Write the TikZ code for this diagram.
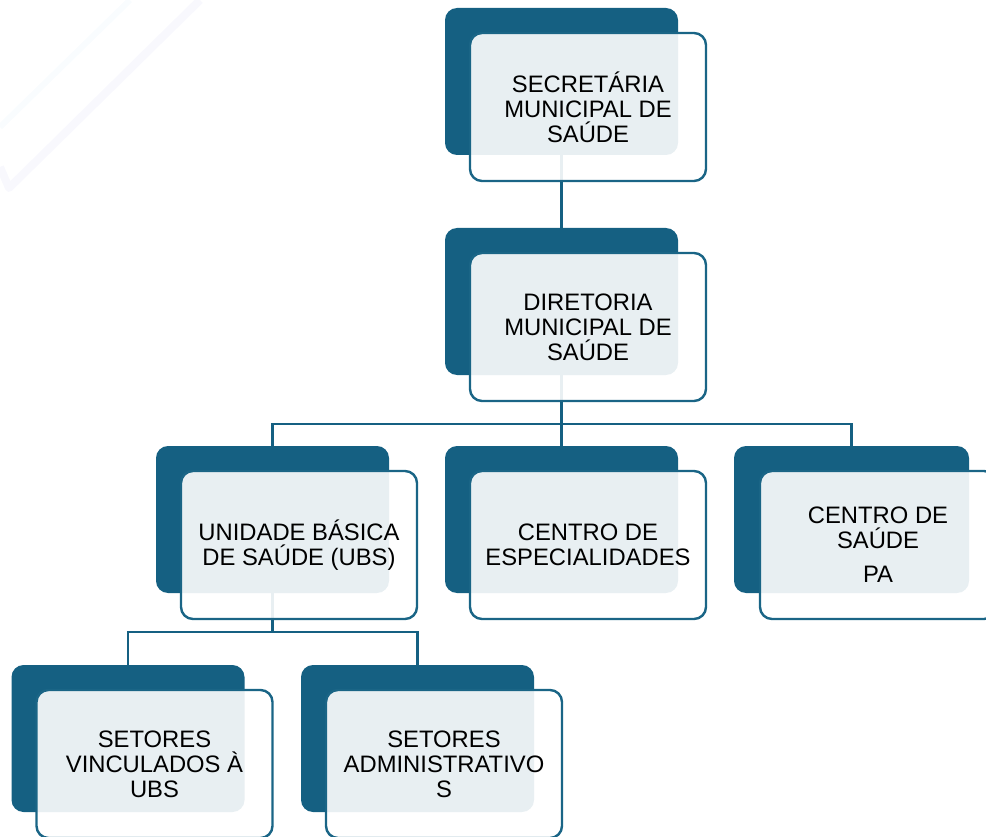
\documentclass[tikz,border=0pt]{standalone}
\usepackage{fontspec}
\setmainfont{Liberation Sans}
\definecolor{teal1}{HTML}{156082}
\definecolor{edge1}{HTML}{1A6586}
\definecolor{wmA}{HTML}{F9FCFE}
\definecolor{wmB}{HTML}{F8F8FD}
\begin{document}
\begin{tikzpicture}[x=1pt,y=-1pt,
  darkbox/.style={draw=none, fill=teal1, rounded corners=12pt, minimum width=233pt, minimum height=147pt, inner sep=0pt, outer sep=0pt},
  frontbox/.style={draw=edge1, line width=2.4pt, fill=white, fill opacity=0.9, text opacity=1, draw opacity=1, rounded corners=12pt, minimum width=236pt, minimum height=148pt, inner sep=2pt, align=center, text=black, font=\fontsize{23.8}{25}\selectfont},
  conn/.style={draw=teal1, line width=2.5pt}]
\useasboundingbox (0,0) rectangle (986,837);
\clip (0,0) rectangle (986,837);
% faint watermark
\draw[wmA, line width=6pt] (0,127) -- (130,0);
\draw[wmB, line width=8pt, line join=round] (0,167) -- (9,188) -- (200,0);
% dark boxes
\node[darkbox] (d1) at (561.5,81.5) {};
\node[darkbox] (d2) at (561.5,301.5) {};
\node[darkbox] (d3) at (272.5,519.5) {};
\node[darkbox] (d4) at (561.5,519.5) {};
\node[darkbox, minimum width=235pt] (d5) at (851.5,519.5) {};
\node[darkbox] (d6) at (128,738.5) {};
\node[darkbox] (d7) at (417.5,738.5) {};
% connectors
\coordinate (bar1) at (561.5,424);
\coordinate (bar2) at (272.5,632);
\draw[conn] (d1.south) -- (d2.north);
\draw[conn] (d2.south) -- (bar1);
\draw[conn] (bar1) -- (d4.north);
\draw[conn] (bar1) -| (d3.north);
\draw[conn] (bar1) -| (d5.north);
\draw[conn] (d3.south) -- (bar2);
\draw[conn] (bar2) -| (d6.north);
\draw[conn] (bar2) -| (d7.north);
% front boxes
\node[frontbox] (f1) at (588,107) {SECRETÁRIA\\MUNICIPAL DE\\SAÚDE};
\node[frontbox] (f2) at (588,327) {DIRETORIA\\MUNICIPAL DE\\SAÚDE};
\node[frontbox] (f3) at (299,545) {UNIDADE BÁSICA\\DE SAÚDE (UBS)};
\node[frontbox] (f4) at (588,545) {CENTRO DE\\ESPECIALIDADES};
\node[frontbox] (f5) at (878,545) {CENTRO DE\\SAÚDE\\[9pt]PA};
\node[frontbox] (f6) at (154.5,764) {SETORES\\VINCULADOS À\\UBS};
\node[frontbox] (f7) at (444,764) {SETORES\\ADMINISTRATIVO\\S};
\end{tikzpicture}
\end{document}
